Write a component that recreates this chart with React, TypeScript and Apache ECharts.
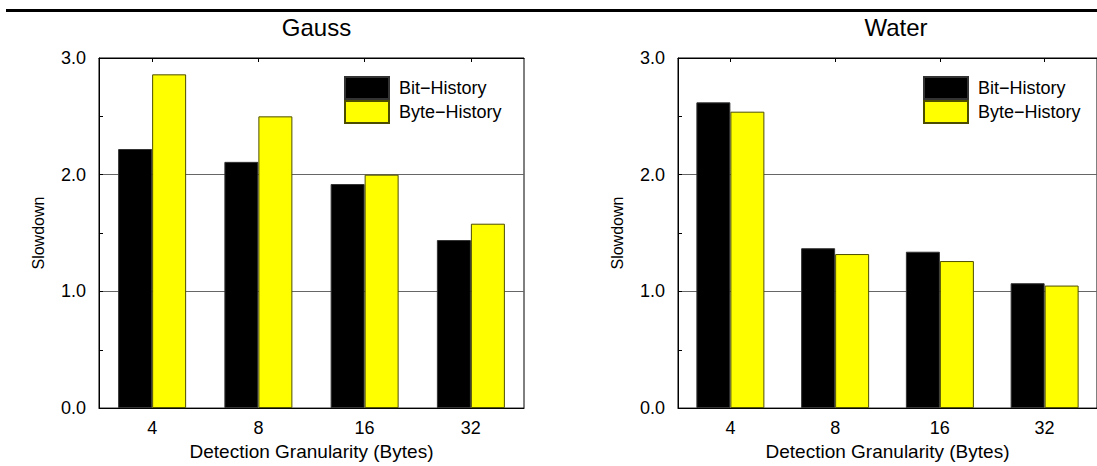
import React, { useEffect, useRef } from "react";
import * as echarts from "echarts";

const categories = ["4", "8", "16", "32"];
const seriesNames = ["Bit-History", "Byte-History"];
const gaussBit = [2.22, 2.11, 1.92, 1.44];
const gaussByte = [2.86, 2.5, 2.0, 1.58];
const waterBit = [2.62, 1.37, 1.34, 1.07];
const waterByte = [2.54, 1.32, 1.26, 1.05];
const panelTitles = ["Gauss", "Water"];
const xName = "Detection Granularity (Bytes)";
const yName = "Slowdown";
const legendText = ["Bit\u2212History", "Byte\u2212History"];

const FONT = "'Liberation Sans', Arial, Helvetica, sans-serif";

export default function App() {
  const ref = useRef<HTMLDivElement>(null);
  useEffect(() => {
    if (!ref.current) return;
    const chart = echarts.init(ref.current, null, { renderer: "svg" });
    const grids = [
      { left: 99, top: 58, width: 425, height: 355 },
      { left: 678, top: 58, width: 426, height: 355 },
    ];
    const centers = [99 + 425 / 2, 678 + 426 / 2];
    const bottomAxes = grids.map((_, i) => ({
      type: "category",
      gridIndex: i,
      data: categories,
      position: "bottom",
      axisLine: { show: true, lineStyle: { color: "#000", width: 1 } },
      axisTick: { show: false },
      axisLabel: { color: "#000", fontSize: 18, fontFamily: FONT, margin: 11 },
      name: xName,
      nameLocation: "middle",
      nameGap: 32,
      nameTextStyle: { color: "#000", fontSize: 19, fontFamily: FONT },
    }));
    const topAxes = grids.map((_, i) => ({
      type: "category",
      gridIndex: i,
      data: categories,
      position: "top",
      axisLine: { show: true, lineStyle: { color: "#000", width: 1 } },
      axisTick: { show: true, inside: true, length: 4, alignWithLabel: true, lineStyle: { color: "#000" } },
      axisLabel: { show: false },
    }));
    const yAxes = grids.map((_, i) => ({
      type: "value",
      gridIndex: i,
      min: 0,
      max: 3,
      interval: 1,
      splitNumber: 3,
      axisLine: { show: true, lineStyle: { color: "#000", width: 1 } },
      axisTick: { show: true, inside: true, length: 4, lineStyle: { color: "#000" } },
      minorTick: { show: true, splitNumber: 2, length: 4, lineStyle: { color: "#000" } },
      splitLine: { show: true, lineStyle: { color: "#666", width: 1 } },
      axisLabel: {
        color: "#000",
        fontSize: 18,
        fontFamily: FONT,
        margin: 13,
        formatter: (v: number) => v.toFixed(1),
      },
      name: yName,
      nameLocation: "middle",
      nameGap: 53,
      nameTextStyle: { color: "#000", fontSize: 16, fontFamily: FONT },
    }));
    const mkBar = (name: string, data: number[], axis: number, color: string, border: string) => ({
      type: "bar",
      name,
      xAxisIndex: axis,
      yAxisIndex: axis,
      data,
      barWidth: 34,
      barGap: "0%",
      itemStyle: { color, borderColor: border, borderWidth: 1 },
    });
    const legendFmt = (n: string) => legendText[seriesNames.indexOf(n)];
    chart.setOption({
      animation: false,
      backgroundColor: "#fff",
      title: panelTitles.map((t, i) => ({
        text: t,
        left: centers[i],
        top: 10,
        textAlign: "center",
        textStyle: { color: "#000", fontSize: 24, fontWeight: "normal", fontFamily: FONT },
      })),
      legend: grids.map((g, i) => ({
        data: seriesNames,
        orient: "vertical",
        left: g.left + 245,
        top: 76,
        itemWidth: 44,
        itemHeight: 22,
        itemGap: 0,
        padding: 0,
        icon: "rect",
        formatter: legendFmt,
        selectedMode: false,
        textStyle: { color: "#000", fontSize: 18, fontFamily: FONT, padding: [0, 0, 0, 5] },
      })),
      grid: grids.map((g) => ({
        ...g,
        show: true,
        borderColor: "#000",
        borderWidth: 1,
        backgroundColor: "transparent",
      })),
      xAxis: [...bottomAxes, ...topAxes],
      yAxis: yAxes,
      series: [
        mkBar(seriesNames[0], gaussBit, 0, "#000000", "#333333"),
        mkBar(seriesNames[1], gaussByte, 0, "#ffff00", "#4d4d00"),
        mkBar(seriesNames[0], waterBit, 1, "#000000", "#333333"),
        mkBar(seriesNames[1], waterByte, 1, "#ffff00", "#4d4d00"),
      ],
      graphic: [
        {
          type: "line",
          shape: { x1: 6, y1: 10.5, x2: 1097, y2: 10.5 },
          style: { stroke: "#000", lineWidth: 3 },
        },
      ],
    });
    return () => chart.dispose();
  }, []);
  return (
    <div
      ref={ref}
      style={{ position: "fixed", left: 0, top: 0, width: 1097, height: 466 }}
    />
  );
}
